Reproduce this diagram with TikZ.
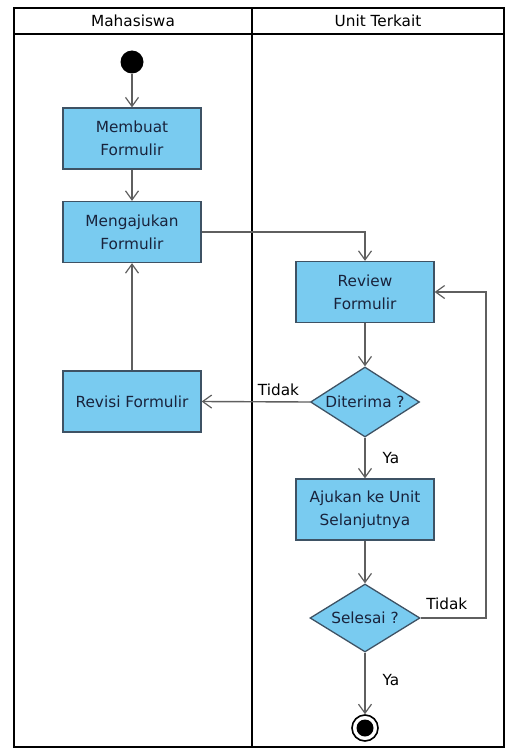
\documentclass[tikz,border=0pt]{standalone}
\usepackage{fontspec}
\setmainfont{DejaVu Sans}
\usepackage{tikz}
\usetikzlibrary{shapes.geometric, arrows.meta}
\definecolor{actfill}{RGB}{121,203,240}
\definecolor{actline}{RGB}{62,82,100}
\definecolor{acttext}{RGB}{25,35,60}
\definecolor{flowgray}{RGB}{95,95,95}

\begin{document}
\begin{tikzpicture}[x=1pt, y=-1pt,
        txt/.style={font=\fontsize{15.3}{23}\selectfont, text=acttext},
        action/.style={txt, rectangle, draw=actline, line width=1.3pt, fill=actfill, minimum width=138pt, minimum height=61pt, align=center, inner sep=0pt},
        decision/.style={txt, diamond, shape aspect=1.56, draw=actline, line width=1.3pt, fill=actfill, minimum width=109pt, minimum height=70pt, inner sep=0pt},
        flow/.style={draw=flowgray, line width=1.4pt, -{Straight Barb[length=9pt, width=13pt, line width=1.2pt]}},
        guard/.style={txt, text=black, inner sep=0pt},
        lane/.style={line width=1.8pt, black}]
        \useasboundingbox (0,0) rectangle (507,749);

        % swimlanes
        \draw[lane] (14,8) rectangle (504,747);
        \draw[lane] (14,34) -- (504,34);
        \draw[lane] (252,8) -- (252,747);
        \node[guard] (mhs) at (133,21) {Mahasiswa};
        \node[guard] (unit) at (378,21) {Unit Terkait};

        \node[circle, fill=black, minimum size=23pt, inner sep=0pt] (start) at (132,62) {};
        \node[action] (membuat) at (132,138.5) {Membuat\\Formulir};
        \node[action] (mengajukan) at (132,232) {Mengajukan\\Formulir};
        \node[action] (revisi) at (132,401.5) {Revisi Formulir};
        \node[action] (review) at (365,292) {Review\\Formulir};
        \node[decision] (diterima) at (365,402) {Diterima ?};
        \node[action] (lanjut) at (365,509.5) {Ajukan ke Unit\\Selanjutnya};
        \node[decision, minimum width=110pt, minimum height=68pt] (selesai) at (365,618) {Selesai ?};
        \node[circle, draw=black, line width=1.6pt, fill=white, minimum size=26pt, inner sep=0pt,
            path picture={\fill[black] (path picture bounding box.center) circle (8.5pt);}] (akhir) at (365,728) {};
        \coordinate (balik) at (486,618);

        \draw[flow] (start) -- (membuat);
        \draw[flow] (membuat) -- (mengajukan);
        \draw[flow] (mengajukan.east) -| (review.north);
        \draw[flow] (review) -- (diterima);
        \draw[flow] (diterima.west) -- node[guard, pos=0.29, above=5pt]{Tidak} (revisi.east);
        \draw[flow] (revisi.north) -- (mengajukan.south);
        \draw[flow] (diterima.south) -- node[guard, midway, right=17pt]{Ya} (lanjut.north);
        \draw[flow] (lanjut) -- (selesai);
        \draw[flow] (selesai.east) -- node[guard, pos=0.4, above=8pt]{Tidak} (balik) |- (review.east);
        \draw[flow] (selesai.south) -- node[guard, pos=0.45, right=17pt]{Ya} (akhir.north);
    \end{tikzpicture}
\end{document}
